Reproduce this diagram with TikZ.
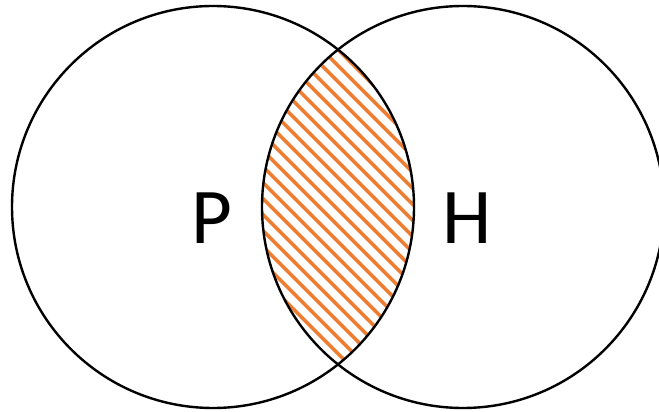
\documentclass[tikz,border=0pt]{standalone}
\usepackage{fontspec}
\setmainfont{Carlito}
\definecolor{hatchorange}{HTML}{ED7D31}
\begin{document}
\begin{tikzpicture}[x=1pt,y=-1pt,
  outline/.style={draw=black,line width=2.4pt},
  hatchline/.style={draw=hatchorange,line width=3.6pt},
  letter/.style={anchor=base,inner sep=0pt,font=\fontsize{79}{79}\selectfont}]
\useasboundingbox (0,0) rectangle (659,412);
\coordinate (cl) at (213,207);
\coordinate (cr) at (463,207);
\begin{scope}
  \clip (cl) circle (201);
  \clip (cr) circle (201);
  \foreach \k in {-9,...,30}{
    \draw[hatchline] ({0.3+16*\k},0) -- ({0.3+16*\k+420},420);
  }
\end{scope}
\draw[outline] (cl) circle (201);
\draw[outline] (cr) circle (201);
\node[letter] (p) at (212,243) {P};
\node[letter] (h) at (467,243) {H};
\end{tikzpicture}
\end{document}
